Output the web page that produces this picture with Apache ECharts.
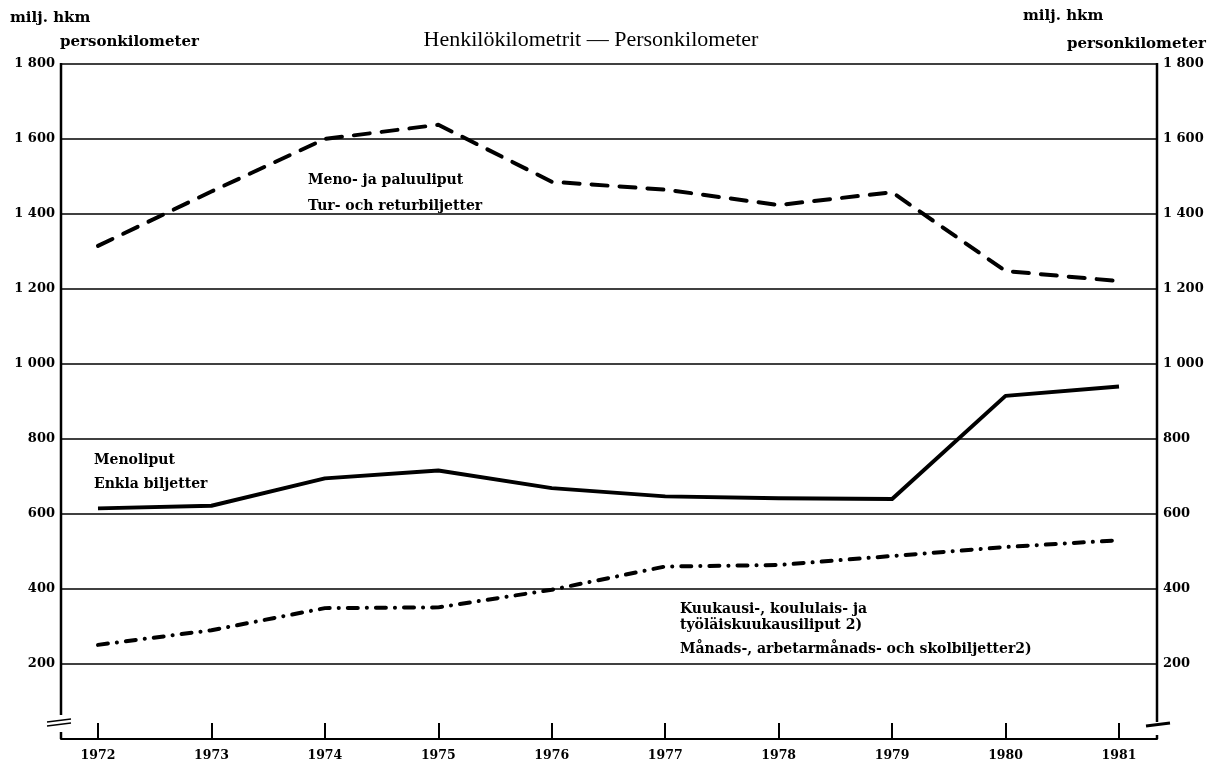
<!DOCTYPE html>
<html><head><meta charset="utf-8">
<script src="https://cdn.jsdelivr.net/npm/echarts@6/dist/echarts.min.js"></script>
<style>html,body{margin:0;padding:0;background:#fff}#c{width:1209px;height:765px}</style>
</head><body><div id="c"></div>
<script>
const years = [1972, 1973, 1974, 1975, 1976, 1977, 1978, 1979, 1980, 1981];
const returnTickets = [1315, 1460, 1600, 1638, 1486, 1465, 1424, 1458, 1248, 1221];
const singleTickets = [615, 622, 695, 716, 669, 647, 642, 640, 915, 940];
const seasonTickets = [251, 290, 349, 351, 398, 460, 464, 488, 512, 530];

const SERIF = '"DejaVu Serif", "Liberation Serif", serif';
const G = {left: 61, right: 52, top: 64, bottom: 26};
const W = 1209, H = 765;
const xL = G.left, xR = W - G.right, yT = G.top, yB = H - G.bottom;

function fmt(v) {
  if (v === 0) return '';
  const s = String(v);
  return s.length > 3 ? s.slice(0, s.length - 3) + ' ' + s.slice(-3) : s;
}
function pts(vals) { return years.map((y, i) => [y, vals[i]]); }

const chart = echarts.init(document.getElementById('c'), null, {renderer: 'canvas'});
const yLabelStyle = {color: '#000', fontFamily: SERIF, fontWeight: 'bold', fontSize: 13};
const xLabelStyle = {color: '#000', fontFamily: SERIF, fontWeight: 'bold', fontSize: 12.5};
const ann = 'bold 14px ' + SERIF;
const hdr = 'bold 15px ' + SERIF;

chart.setOption({
  backgroundColor: '#fff',
  animation: false,
  grid: G,
  xAxis: {
    type: 'value', min: 1971.674, max: 1981.335,
    axisLine: {show: true, lineStyle: {color: '#000', width: 2}},
    axisTick: {show: true, inside: true, length: 16, lineStyle: {color: '#000', width: 2}, customValues: years},
    axisLabel: Object.assign({margin: 10, customValues: years, formatter: v => String(v)}, xLabelStyle),
    splitLine: {show: false}
  },
  yAxis: [
    {
      type: 'value', min: 0, max: 1800, interval: 200, position: 'left',
      axisLine: {show: false}, axisTick: {show: false},
      axisLabel: Object.assign({margin: 6, formatter: fmt, padding: [0, 0, 4, 0]}, yLabelStyle),
      splitLine: {show: true, lineStyle: {color: '#000', width: 1.5}}
    },
    {
      type: 'value', min: 0, max: 1800, interval: 200, position: 'right',
      axisLine: {show: false}, axisTick: {show: false},
      axisLabel: Object.assign({margin: 6, formatter: fmt}, yLabelStyle),
      splitLine: {show: false}
    }
  ],
  series: [
    {name: 'Meno- ja paluuliput', type: 'line', data: pts(returnTickets), symbol: 'none',
     lineStyle: {color: '#000', width: 4, type: [16, 12], cap: 'round', join: 'round'}},
    {name: 'Menoliput', type: 'line', data: pts(singleTickets), symbol: 'none',
     lineStyle: {color: '#000', width: 4, type: 'solid', join: 'round'}},
    {name: 'Kuukausiliput', type: 'line', data: pts(seasonTickets), symbol: 'none',
     lineStyle: {color: '#000', width: 4, type: [10, 9, 0.1, 9], cap: 'round', join: 'round'}}
  ],
  graphic: [
    {type: 'line', shape: {x1: xL, y1: yT - 1, x2: xL, y2: 715}, style: {stroke: '#000', lineWidth: 2.5}},
    {type: 'line', shape: {x1: xL, y1: 732, x2: xL, y2: yB}, style: {stroke: '#000', lineWidth: 2.5}},
    {type: 'line', shape: {x1: 47, y1: 722, x2: 71, y2: 719}, style: {stroke: '#000', lineWidth: 1.5}},
    {type: 'line', shape: {x1: 47, y1: 726, x2: 71, y2: 723}, style: {stroke: '#000', lineWidth: 1.5}},
    {type: 'line', shape: {x1: xR, y1: yT - 1, x2: xR, y2: 722}, style: {stroke: '#000', lineWidth: 2.5}},
    {type: 'line', shape: {x1: xR, y1: 735, x2: xR, y2: yB}, style: {stroke: '#000', lineWidth: 2.5}},
    {type: 'line', shape: {x1: 1146, y1: 726, x2: 1170, y2: 723}, style: {stroke: '#000', lineWidth: 3}},
    {type: 'text', x: 591, y: 40, style: {text: 'Henkilökilometrit — Personkilometer', fill: '#000',
      font: '22px "Liberation Serif", serif', textAlign: 'center', textVerticalAlign: 'middle'}},
    {type: 'text', x: 10, y: 18, style: {text: 'milj. hkm', fill: '#000', font: hdr, textVerticalAlign: 'middle'}},
    {type: 'text', x: 60, y: 42, style: {text: 'personkilometer', fill: '#000', font: hdr, textVerticalAlign: 'middle'}},
    {type: 'text', x: 1023, y: 16, style: {text: 'milj. hkm', fill: '#000', font: hdr, textVerticalAlign: 'middle'}},
    {type: 'text', x: 1067, y: 44, style: {text: 'personkilometer', fill: '#000', font: hdr, textVerticalAlign: 'middle'}},
    {type: 'text', x: 308, y: 180, style: {text: 'Meno- ja paluuliput', fill: '#000', font: ann, textVerticalAlign: 'middle'}},
    {type: 'text', x: 308, y: 206, style: {text: 'Tur- och returbiljetter', fill: '#000', font: ann, textVerticalAlign: 'middle'}},
    {type: 'text', x: 94, y: 460, style: {text: 'Menoliput', fill: '#000', font: ann, textVerticalAlign: 'middle'}},
    {type: 'text', x: 94, y: 484, style: {text: 'Enkla biljetter', fill: '#000', font: ann, textVerticalAlign: 'middle'}},
    {type: 'text', x: 680, y: 609, style: {text: 'Kuukausi-, koululais- ja', fill: '#000', font: ann, textVerticalAlign: 'middle'}},
    {type: 'text', x: 680, y: 625, style: {text: 'työläiskuukausiliput 2)', fill: '#000', font: ann, textVerticalAlign: 'middle'}},
    {type: 'text', x: 680, y: 649, style: {text: 'Månads-, arbetarmånads- och skolbiljetter2)', fill: '#000', font: ann, textVerticalAlign: 'middle'}}
  ]
});
</script></body></html>
